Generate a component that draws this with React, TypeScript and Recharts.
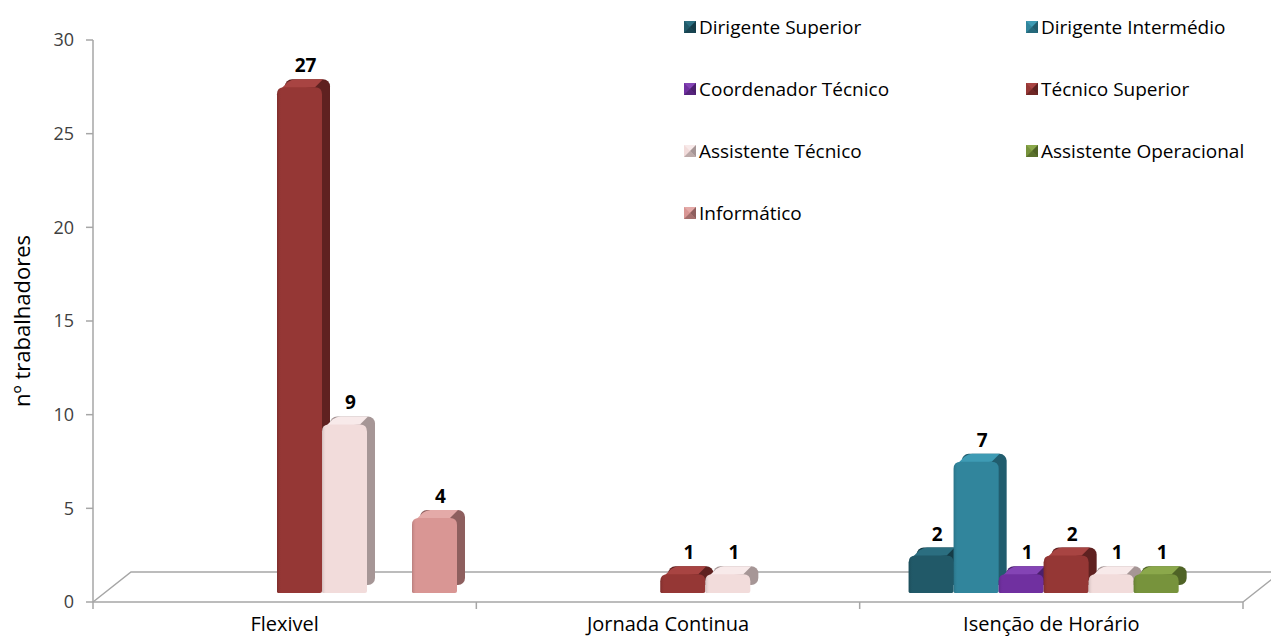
import { BarChart, Bar, XAxis, YAxis, LabelList } from 'recharts';

// Regimes de horário e número de trabalhadores por carreira
const categories = ['Flexivel', 'Jornada Continua', 'Isenção de Horário'];

const dirigenteSuperior = [null, null, 2];
const dirigenteIntermedio = [null, null, 7];
const coordenadorTecnico = [null, null, 1];
const tecnicoSuperior = [27, 1, 2];
const assistenteTecnico = [9, 1, 1];
const assistenteOperacional = [null, null, 1];
const informatico = [4, null, null];

const yTicks = [0, 5, 10, 15, 20, 25, 30];

const series = [
    { key: 'ds', name: 'Dirigente Superior', values: dirigenteSuperior },
    { key: 'di', name: 'Dirigente Intermédio', values: dirigenteIntermedio },
    { key: 'ct', name: 'Coordenador Técnico', values: coordenadorTecnico },
    { key: 'ts', name: 'Técnico Superior', values: tecnicoSuperior },
    { key: 'at', name: 'Assistente Técnico', values: assistenteTecnico },
    { key: 'ao', name: 'Assistente Operacional', values: assistenteOperacional },
    { key: 'inf', name: 'Informático', values: informatico },
];

interface Shade {
    front: string;
    side: string;
    top: string;
}

const palette: Record<string, Shade> = {
    ds: { front: '#215968', side: '#153c47', top: '#2b6e80' },
    di: { front: '#31859c', side: '#215d6e', top: '#3e9bb4' },
    ct: { front: '#7030a0', side: '#4b1f6d', top: '#8444b5' },
    ts: { front: '#953735', side: '#5f2120', top: '#a84442' },
    at: { front: '#f2dcdb', side: '#a69696', top: '#f8eaea' },
    ao: { front: '#77933c', side: '#4f6326', top: '#8ba84b' },
    inf: { front: '#d99694', side: '#8e5f5e', top: '#e4aaa8' },
};

const data = categories.map((name, i) => {
    const row: Record<string, string | number | null> = { name };
    series.forEach((s) => {
        row[s.key] = s.values[i];
    });
    return row;
});

// chart frame
const W = 1271;
const H = 639;
const PLOT_LEFT = 93;
const PLOT_TOP = 40;
const PLOT_RIGHT = 1243;
const PLOT_BOTTOM = 602;

// perspective of the 3D boxes and of the floor
const DX = 8;
const DY = 8;
const SHIFT = 15;
const LIFT = 9;
const R = 7;
const FLOOR_DX = 38;
const FLOOR_DY = 30;

const AXIS_GREY = '#a6a6a6';
const FONT = '"Century Gothic", "Open Sans", sans-serif';

const Box3D = (props: any) => {
    const { x, y, width, height, shade, id } = props;
    if (!height || height <= 0) return null;
    const x0 = x + SHIFT;
    const y0 = y - LIFT;
    const w = width;
    const h = height;
    const r = Math.min(R, h / 2);
    const front = `M${x0},${y0 + h - 1} L${x0},${y0 + r} Q${x0},${y0} ${x0 + r},${y0} L${x0 + w - r},${y0} Q${x0 + w},${y0} ${x0 + w},${y0 + r} L${x0 + w},${y0 + h - 2} Q${x0 + w},${y0 + h} ${x0 + w - 2},${y0 + h} L${x0 + 1},${y0 + h} Z`;
    const top = `M${x0 + r * 0.4},${y0 + r * 0.4} L${x0 + DX + r * 0.4},${y0 - DY + r * 0.4} Q${x0 + DX + r},${y0 - DY} ${x0 + DX + r * 1.5},${y0 - DY} L${x0 + w + DX - r},${y0 - DY} L${x0 + w - r},${y0} Z`;
    return (
        <g>
            <defs>
                <linearGradient id={`front-${id}`} x1='0' y1='0' x2='1' y2='0'>
                    <stop offset='0%' stopColor={shade.side} stopOpacity={0.45} />
                    <stop offset='10%' stopColor={shade.front} stopOpacity={0} />
                    <stop offset='100%' stopColor={shade.front} stopOpacity={0} />
                </linearGradient>
            </defs>
            <rect x={x0 + DX} y={y0 - DY} width={w} height={h} rx={r} ry={r} fill={shade.side} />
            <path d={top} fill={shade.top} />
            <path d={front} fill={shade.front} />
            <path d={front} fill={`url(#front-${id})`} />
        </g>
    );
};

const ValueLabel = (props: any) => {
    const { x, y, width, value } = props;
    if (value === null || value === undefined) return null;
    return (
        <text
            x={x + SHIFT + width / 2 + 6}
            y={y - LIFT - DY - 7}
            textAnchor='middle'
            fontFamily={FONT}
            fontWeight={700}
            fontSize={19}
            fill='#000'
        >
            {value}
        </text>
    );
};

// floor of the 3D plot, drawn behind the chart svg
const Floor = () => {
    const boundaries = categories.map((_, i) => PLOT_LEFT + ((PLOT_RIGHT - PLOT_LEFT) * i) / categories.length);
    boundaries.push(PLOT_RIGHT);
    return (
        <svg width={W} height={H} style={{ position: 'absolute', left: 0, top: 0 }}>
            <g stroke={AXIS_GREY} strokeWidth={1.5} fill='none'>
                <polyline
                    points={`${PLOT_LEFT},${PLOT_BOTTOM} ${PLOT_LEFT + FLOOR_DX},${PLOT_BOTTOM - FLOOR_DY} ${PLOT_RIGHT + FLOOR_DX},${PLOT_BOTTOM - FLOOR_DY} ${PLOT_RIGHT},${PLOT_BOTTOM}`}
                />
                <line x1={PLOT_LEFT} y1={PLOT_BOTTOM} x2={PLOT_RIGHT} y2={PLOT_BOTTOM} />
                {boundaries.map((bx) => (
                    <line key={bx} x1={bx} y1={PLOT_BOTTOM} x2={bx} y2={PLOT_BOTTOM + 7} />
                ))}
            </g>
        </svg>
    );
};

const Swatch: React.FC<{ shade: Shade }> = ({ shade }) => (
    <svg width={12} height={12} style={{ marginRight: 3, flexShrink: 0 }}>
        <rect x={0} y={0} width={12} height={12} fill={shade.front} />
        <polygon points='0,0 12,0 6,6' fill={shade.top} />
        <polygon points='12,0 12,12 6,6' fill={shade.side} />
        <polygon points='0,12 12,12 6,6' fill={shade.side} opacity={0.7} />
    </svg>
);

const ChartLegend = () => (
    <div
        style={{
            position: 'absolute',
            left: 684,
            top: 15,
            width: 590,
            display: 'grid',
            gridTemplateColumns: '342px 248px',
            rowGap: 38,
            fontFamily: FONT,
            fontSize: 19,
            color: '#000',
        }}
    >
        {series.map((s) => (
            <div key={s.key} style={{ display: 'flex', alignItems: 'center', height: 24, whiteSpace: 'nowrap' }}>
                <Swatch shade={palette[s.key]} />
                <span>{s.name}</span>
            </div>
        ))}
    </div>
);

export default function App() {
    return (
        <div style={{ position: 'absolute', left: 0, top: 0, width: W, height: H, background: '#fff' }}>
            <Floor />
            <div style={{ position: 'absolute', left: 0, top: 0 }}>
                <BarChart
                    width={W}
                    height={H}
                    data={data}
                    margin={{ top: PLOT_TOP, right: W - PLOT_RIGHT, left: 0, bottom: 0 }}
                    barSize={45}
                    barGap={0}
                    style={{ fontFamily: FONT }}
                >
                    <XAxis
                        dataKey='name'
                        axisLine={false}
                        tickLine={false}
                        tickSize={0}
                        tickMargin={15}
                        height={H - PLOT_BOTTOM}
                        interval={0}
                        tick={{ fontSize: 20, fill: '#000', fontFamily: FONT }}
                    />
                    <YAxis
                        domain={[0, 30]}
                        ticks={yTicks}
                        width={PLOT_LEFT}
                        tickSize={7}
                        tickMargin={12}
                        stroke={AXIS_GREY}
                        strokeWidth={1.5}
                        tick={{ fontSize: 18, fill: '#404040', fontFamily: '"Open Sans", sans-serif' }}
                        label={{
                            value: 'nº trabalhadores',
                            angle: -90,
                            position: 'insideLeft',
                            offset: 22,
                            style: { textAnchor: 'middle', fontSize: 22, fill: '#000', fontFamily: FONT },
                        }}
                    />
                    {series.map((s) => (
                        <Bar
                            key={s.key}
                            dataKey={s.key}
                            name={s.name}
                            isAnimationActive={false}
                            shape={(p: any) => <Box3D {...p} shade={palette[s.key]} id={s.key} />}
                        >
                            <LabelList dataKey={s.key} content={ValueLabel} />
                        </Bar>
                    ))}
                </BarChart>
            </div>
            <ChartLegend />
        </div>
    );
}
